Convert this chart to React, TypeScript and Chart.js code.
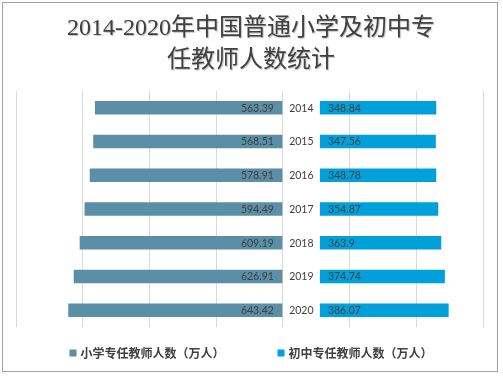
import React, { useEffect, useRef } from 'react';
import { Chart, registerables } from 'chart.js';

Chart.register(...registerables);

const years = ['2014', '2015', '2016', '2017', '2018', '2019', '2020'];
const primaryTeachers = [563.39, 568.51, 578.91, 594.49, 609.19, 626.91, 643.42];
const juniorTeachers = [348.84, 347.56, 348.78, 354.87, 363.9, 374.74, 386.07];
const seriesNames = ['小学专任教师人数（万人）', '初中专任教师人数（万人）'];
const titleLines = ['2014-2020年中国普通小学及初中专', '任教师人数统计'];
const seriesColors = ['#5b8fa6', '#00a1db'];
const GAP = 111; // central gap (axis units) that holds the year labels

const W = 503;
const H = 377;

const decorPlugin = {
  id: 'decor',
  beforeDraw(chart: any) {
    const ctx = chart.ctx;
    ctx.save();
    ctx.fillStyle = '#ffffff';
    ctx.fillRect(0, 0, W, H);
    ctx.restore();
  },
  afterDraw(chart: any) {
    const ctx = chart.ctx;
    ctx.save();
    // border
    ctx.strokeStyle = '#a0a0a0';
    ctx.lineWidth = 1;
    ctx.strokeRect(2.5, 2.5, 495, 369);
    // title
    ctx.fillStyle = '#404040';
    ctx.font = '24px "Liberation Serif", "Noto Sans CJK SC", serif';
    ctx.textAlign = 'center';
    ctx.textBaseline = 'middle';
    ctx.shadowColor = 'rgba(0,0,0,0.25)';
    ctx.shadowOffsetX = 1;
    ctx.shadowOffsetY = 1;
    ctx.shadowBlur = 1;
    ctx.fillText(titleLines[0], 251, 29);
    ctx.fillText(titleLines[1], 251, 61);
    ctx.restore();

    // legend
    ctx.save();
    ctx.font = 'bold 12px "Noto Sans CJK SC", sans-serif';
    ctx.textBaseline = 'middle';
    ctx.textAlign = 'left';
    const box = 7;
    const gapText = 4;
    const gapItems = 53;
    const widths = seriesNames.map((s) => box + gapText + ctx.measureText(s).width);
    const total = widths[0] + gapItems + widths[1];
    let x = 251 - total / 2;
    const y = 353;
    seriesNames.forEach((s, i) => {
      ctx.fillStyle = seriesColors[i];
      ctx.fillRect(x, y - 3.5, box, box);
      ctx.fillStyle = '#404040';
      ctx.fillText(s, x + box + gapText, y + 0.5);
      x += widths[i] + gapItems;
    });
    ctx.restore();
  },
  afterDatasetsDraw(chart: any) {
    const ctx = chart.ctx;
    const xs = chart.scales.x;
    const ys = chart.scales.y;
    const zero = xs.getPixelForValue(0);
    const start = xs.getPixelForValue(GAP);
    ctx.save();
    ctx.font = '10.5px Lato, "Open Sans", sans-serif';
    ctx.fillStyle = '#404040';
    ctx.textBaseline = 'middle';
    years.forEach((yr, i) => {
      const y = ys.getPixelForValue(i) + 0.5;
      ctx.textAlign = 'right';
      ctx.fillText(String(primaryTeachers[i]), zero - 9, y);
      ctx.textAlign = 'left';
      ctx.fillText(String(juniorTeachers[i]), start + 8, y);
      ctx.textAlign = 'center';
      ctx.fillText(yr, (zero + start) / 2, y);
    });
    ctx.restore();
  },
};

export default function App() {
  const ref = useRef<HTMLCanvasElement | null>(null);
  useEffect(() => {
    if (!ref.current) return;
    const chart = new Chart(ref.current, {
      type: 'bar',
      data: {
        labels: years,
        datasets: [
          {
            label: seriesNames[0],
            data: primaryTeachers.map((v) => [-v, 0]) as any,
            backgroundColor: seriesColors[0],
            borderWidth: 0,
            grouped: false,
            barPercentage: 0.4,
            categoryPercentage: 1,
          } as any,
          {
            label: seriesNames[1],
            data: juniorTeachers.map((v) => [GAP, GAP + v]) as any,
            backgroundColor: seriesColors[1],
            borderWidth: 0,
            grouped: false,
            barPercentage: 0.4,
            categoryPercentage: 1,
          } as any,
        ],
      },
      options: {
        indexAxis: 'y',
        responsive: false,
        animation: false,
        devicePixelRatio: 1,
        layout: { padding: { left: 16, right: 20, top: 91, bottom: 50 } },
        plugins: {
          legend: { display: false },
          title: { display: false },
          tooltip: { enabled: false },
        },
        scales: {
          x: {
            type: 'linear',
            min: -800,
            max: 600,
            ticks: { display: false, stepSize: 200 },
            grid: { color: '#d9d9d9', drawTicks: false, lineWidth: 1 },
            border: { display: false },
          },
          y: {
            display: false,
          },
        },
      },
      plugins: [decorPlugin],
    });
    return () => chart.destroy();
  }, []);
  return (
    <div style={{ position: 'absolute', left: 0, top: 0, width: W, height: H }}>
      <canvas ref={ref} width={W} height={H} style={{ display: 'block' }} />
    </div>
  );
}
